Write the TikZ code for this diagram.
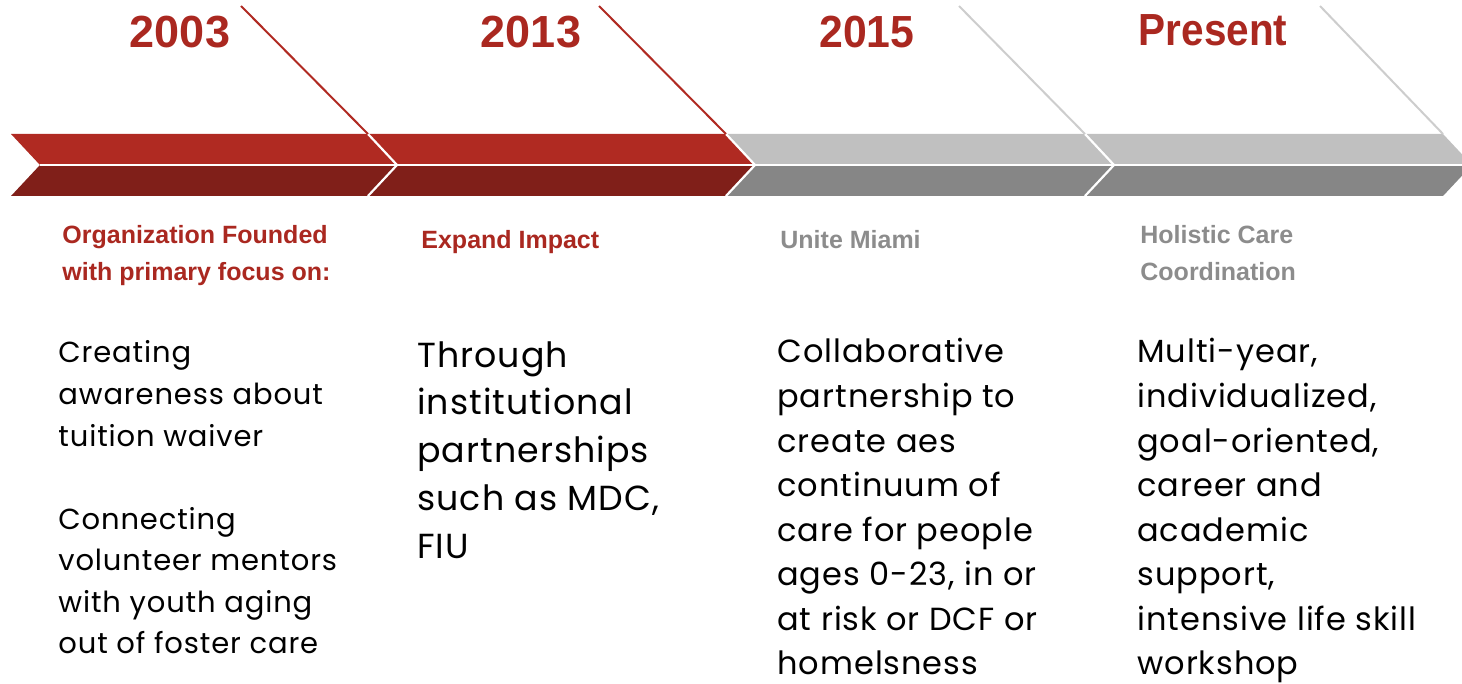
\documentclass[tikz,border=0pt]{standalone}
\usepackage{fontspec}
\setmainfont{Poppins}[LetterSpace=3]
\newfontfamily\headfont{Liberation Sans}
\usepackage{graphicx}
\definecolor{redA}{RGB}{176,42,34}
\definecolor{redB}{RGB}{128,31,25}
\definecolor{grayA}{RGB}{192,192,192}
\definecolor{grayB}{RGB}{134,134,134}
\definecolor{redT}{RGB}{170,40,32}
\definecolor{grayT}{RGB}{140,140,140}
\definecolor{grayL}{RGB}{205,205,205}
\begin{document}
\begin{tikzpicture}[x=0.5pt,y=-0.5pt,
  yearlbl/.style={font=\headfont\bfseries\fontsize{22.5}{27}\selectfont, text=redT, inner sep=0pt, anchor=base},
  sublbl/.style={font=\headfont\bfseries\fontsize{12.5}{15}\selectfont, inner sep=0pt, anchor=base west},
  bodyA/.style={font=\fontsize{14.5}{17}\selectfont, inner sep=0pt, anchor=base west, text=black},
  bodyB/.style={font=\fontsize{17.4}{20}\selectfont, inner sep=0pt, anchor=base west, text=black},
  bodyC/.style={font=\fontsize{16}{19}\selectfont, inner sep=0pt, anchor=base west, text=black},
  redline/.style={draw=redA, line width=1pt},
  grayline/.style={draw=grayL, line width=1pt},
  sep/.style={draw=white, line width=1.1pt}]
\useasboundingbox (0,0) rectangle (1462,684);
\begin{scope}
\clip (0,0) rectangle (1462,684);
% chevron bands
\foreach \L/\T/\ca/\cb in {11/397/redA/redB, 368/755/redA/redB, 726/1114/grayA/grayB, 1085/1472/grayA/grayB} {
  \fill[\ca] (\L,134) -- ({\T-29},134) -- (\T,165) -- ({\L+29},165) -- cycle;
  \fill[\cb] ({\L+29},165) -- (\T,165) -- ({\T-29},196) -- (\L,196) -- cycle;
}
\draw[sep] (40,165) -- (1472,165);
\foreach \T in {397,755,1114} {
  \draw[sep] ({\T-29},134) -- (\T,165) -- ({\T-29},196);
}
\end{scope}
% slanted lines
\coordinate (s1) at (241,6);   \coordinate (k1) at (368,134);
\coordinate (s2) at (599,6);   \coordinate (k2) at (726,134);
\coordinate (s3) at (959,6);   \coordinate (k3) at (1085,134);
\coordinate (s4) at (1320,6);  \coordinate (k4) at (1443,134);
\draw[redline] (s1) -- (k1);
\draw[redline] (s2) -- (k2);
\draw[grayline] (s3) -- (k3);
\draw[grayline] (s4) -- (k4);
% years
\node[yearlbl] (y1) at (180,48) {2003};
\node[yearlbl] (y2) at (531,48) {2013};
\node[yearlbl] (y3) at (867,48) {\scalebox{0.95}[1]{2015}};
\node[yearlbl] (y4) at (1213,46) {\scalebox{0.9}[1]{Present}};
% subtitles
\node[sublbl, text=redT] (t1a) at (62,244) {Organization Founded};
\node[sublbl, text=redT] (t1b) at (62,281) {with primary focus on:};
\node[sublbl, text=redT] (t2) at (421,249) {Expand Impact};
\node[sublbl, text=grayT] (t3) at (780,249) {Unite Miami};
\node[sublbl, text=grayT] (t4a) at (1140,244) {Holistic Care};
\node[sublbl, text=grayT] (t4b) at (1140,281) {Coordination};
% body column 1
\foreach \t [count=\i] in {{Creating},{awareness about},{tuition waiver}}
  \node[bodyA] (c1a\i) at (58,{363+41.6*(\i-1)}) {\t};
\foreach \t [count=\i] in {{Connecting},{volunteer mentors},{with youth aging},{out of foster care}}
  \node[bodyA] (c1b\i) at (58,{529+41.6*(\i-1)}) {\t};
% body column 2
\foreach \t [count=\i] in {{Through},{institutional},{partnerships},{such as MDC,},{FIU}}
  \node[bodyB] (c2\i) at (417,{367+47.75*(\i-1)}) {\t};
% body column 3
\foreach \t [count=\i] in {{Collaborative},{partnership to},{create aes},{continuum of},{care for people},{ages 0-23, in or},{at risk or DCF or},{homelsness}}
  \node[bodyC] (c3\i) at (777,{363+44.5*(\i-1)}) {\t};
% body column 4
\foreach \t [count=\i] in {{Multi-year,},{individualized,},{goal-oriented,},{career and},{academic},{support,},{intensive life skill},{workshop}}
  \node[bodyC] (c4\i) at (1137,{363+44.5*(\i-1)}) {\t};
\end{tikzpicture}
\end{document}
